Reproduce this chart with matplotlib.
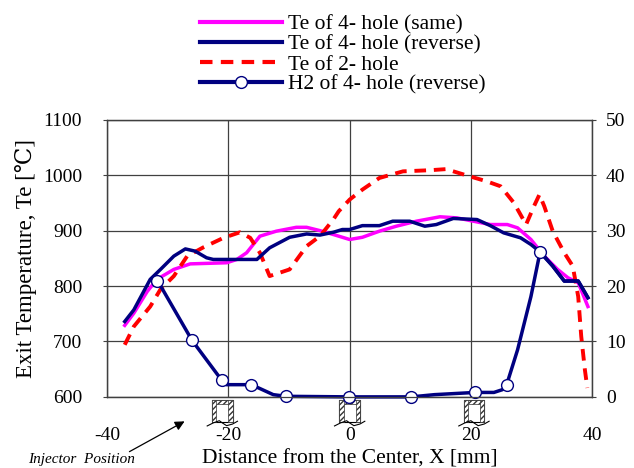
import numpy as np
import matplotlib
matplotlib.use('Agg')
import matplotlib.pyplot as plt
from matplotlib.patches import Rectangle
from matplotlib.transforms import blended_transform_factory

plt.rcParams['font.family'] = ['Liberation Serif', 'DejaVu Serif']
plt.rcParams['axes.unicode_minus'] = False

# ---- data ----
# Te of 4-hole (same)
mag_x = [-37.1, -35.6, -33.4, -31.8, -29.0, -26.3, -20.3, -18.6, -17.0, -14.8, -12.1, -8.8,
         -7.1, -4.9, -2.7, 0, 2.1, 4.9, 7.7, 11, 14.9, 17.7, 20.4, 23.2, 26, 27.7, 29.9,
         32.1, 34.3, 36, 37.7, 39.3]
mag_y = [729, 751, 790, 812, 830, 840, 842, 848, 860, 890, 899, 906, 906, 900, 893, 884,
         888, 899, 908, 917, 925, 923, 917, 911, 911, 905, 884, 854, 830, 815, 806, 763]

# Te of 4-hole (reverse)
nav_x = [-37.1, -35.6, -32.9, -31.2, -29.0, -27.1, -25.5, -23.6, -22.5, -15.3, -13.2, -9.9,
         -7.1, -4.9, -2.7, -1.2, 0, 2.1, 4.9, 7.1, 9.9, 12.4, 14.3, 17.1, 21, 23.2, 25.4,
         28.2, 29.9, 31.6, 33.5, 35.4, 37.7, 39.3]
nav_y = [736, 757, 812, 830, 854, 867, 863, 851, 848, 848, 869, 888, 894, 892, 897, 902,
         902, 909, 909, 917, 917, 908, 911, 922, 920, 909, 896, 887, 875, 860, 836, 809,
         809, 779]

# Te of 2-hole
red_x = [-37.1, -35.6, -32.9, -31.2, -29, -26.8, -24.1, -20.8, -18.1, -16.4, -14.8, -13.2,
         -9.9, -7.1, -4.9, -2.7, -1.8, 0, 2.1, 4.9, 8.8, 13.2, 15.9, 19.8, 22.6, 24.9, 27.1,
         29.1, 30.4, 31.3, 32.1, 33.5, 35.4, 36.8, 37.7, 38.2, 38.8, 39.2]
red_y = [694, 727, 763, 794, 818, 854, 870, 887, 897, 887, 860, 818, 830, 872, 890, 920,
         935, 956, 974, 995, 1007, 1009, 1011, 998, 989, 980, 950, 911, 944, 965, 944, 899,
         860, 836, 781, 709, 649, 616]

# H2 of 4-hole (reverse), right axis
h2_x = [-31.7, -26.0, -21.1, -20.3, -16.2, -12.6, -10.5, -0.1, 10.2, 14, 20.7, 23.8, 25.2,
        25.9, 27.7, 29.9, 31.4, 33.5, 35.4, 37.7, 39.3]
h2_y = [21.0, 10.2, 3.0, 2.2, 2.2, 0.4, 0.1, 0, 0, 0.4, 0.8, 0.8, 1.3, 2.2, 8.5, 18.1,
        26.1, 23.6, 20.9, 20.9, 17.9]
h2_marks = [0, 1, 2, 4, 6, 7, 8, 10, 13, 16]

injectors = [-21, 0, 20.5]

labels = ['Te of 4- hole (same)', 'Te of 4- hole (reverse)', 'Te of 2- hole',
          'H2 of 4- hole (reverse)']

# ---- plot ----
fig = plt.figure(figsize=(6.34, 4.68), dpi=100)
ax = fig.add_axes([0.169, 0.152, 0.765, 0.592])
ax2 = ax.twinx()

navy = '#000080'
l1, = ax.plot(mag_x, mag_y, color='#FF00FF', lw=2.5, zorder=3)
l2, = ax.plot(nav_x, nav_y, color=navy, lw=2.5, zorder=4)
l3, = ax.plot(red_x, red_y, color='#FF0000', lw=2.8, ls=(0, (3, 2)), zorder=3)
l4, = ax2.plot(h2_x, h2_y, color=navy, lw=2.5, marker='o', markevery=h2_marks,
               markersize=8.5, markerfacecolor='white', markeredgecolor=navy,
               markeredgewidth=1.0, clip_on=False)

ax.set_xlim(-40, 40)
ax.set_ylim(600, 1100)
ax2.set_ylim(0, 50)
ax.set_xticks([-40, -20, 0, 20, 40])
ax.set_yticks(range(600, 1101, 100))
ax2.set_yticks(range(0, 51, 10))

ax.grid(True, color='#404040', lw=0.9)
for a in (ax, ax2):
    for s in a.spines.values():
        s.set_color('#404040')
        s.set_linewidth(0.9)
ax.tick_params(axis='y', labelsize=14, length=3, color='#404040', pad=15)
ax.tick_params(axis='x', labelsize=14, length=0, pad=22)
ax2.tick_params(axis='y', labelsize=14, length=3, color='#404040', pad=7)

ax.set_ylabel('Exit Temperature, Te [\u2103]', fontsize=16.5, labelpad=4)
ax.set_xlabel('Distance from the Center, X [mm]', fontsize=15.5, labelpad=4)

# injector icons below the axis
tr = blended_transform_factory(ax.transData, ax.transAxes)
w, wall, top, bot, bar = 3.4, 0.7, -0.011, -0.09, 0.015
for xc in injectors:
    x0 = xc - w / 2
    ax.add_patch(Rectangle((x0, bot), w, top - bot, transform=tr, clip_on=False,
                           facecolor='white', edgecolor='black', lw=0.8, zorder=5))
    for (rx, ry, rw, rh) in [(x0, top - bar, w, bar), (x0, bot, wall, top - bot),
                             (x0 + w - wall, bot, wall, top - bot)]:
        ax.add_patch(Rectangle((rx, ry), rw, rh, transform=tr, clip_on=False,
                               facecolor='white', edgecolor='#333333', hatch='//////',
                               lw=0.5, zorder=6))
    wx = [x0 - 0.8, x0 + 0.2, x0 + 1.2, xc, x0 + w - 1.0, x0 + w, x0 + w + 0.8]
    wy = [bot - 0.015, bot - 0.004, bot + 0.004, bot - 0.004, bot - 0.014, bot - 0.008, bot + 0.002]
    ax.plot(wx, wy, color='black', lw=0.8, transform=tr, clip_on=False, zorder=7)

ax.annotate('', xy=(187 / 634, 1 - 420 / 468), xytext=(127 / 634, 1 - 453 / 468),
            xycoords='figure fraction', textcoords='figure fraction',
            arrowprops=dict(arrowstyle='-|>', color='black', lw=0.9, mutation_scale=14))
fig.text(28 / 634, 1 - 459 / 468, 'Injector  Position', fontsize=11, style='italic',
         va='center', ha='left')

leg = fig.legend([l1, l2, l3, l4], labels, loc='upper left', bbox_to_anchor=(0.295, 0.997),
                 frameon=False, fontsize=15.5, handlelength=3.8, handletextpad=0.28,
                 labelspacing=0.0, borderaxespad=0.2)
for h in leg.legend_handles:
    h.set_linewidth(3.0)

fig.savefig('out.png', dpi=100)
